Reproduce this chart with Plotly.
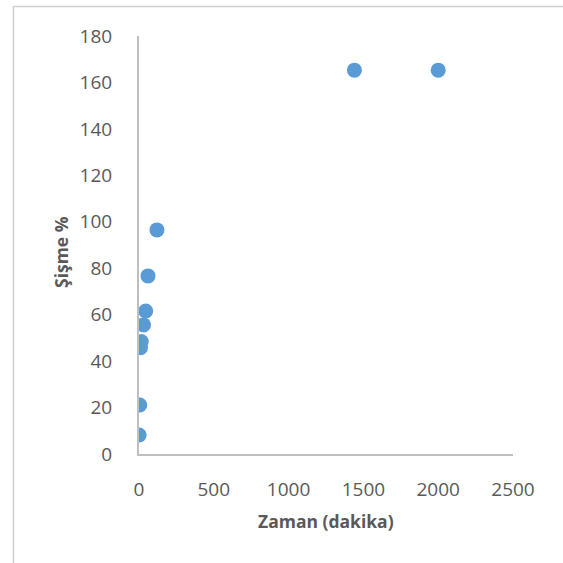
import plotly.graph_objects as go

zaman = [1, 5, 10, 15, 30, 45, 60, 120, 1440, 2000]
sisme = [8.2, 21.1, 45.8, 48.4, 55.6, 61.6, 76.7, 96.5, 165.3, 165.3]

x_ticks = [0, 500, 1000, 1500, 2000, 2500]
y_ticks = [0, 20, 40, 60, 80, 100, 120, 140, 160, 180]

W, H = 563, 563
L, R, T = 139, 50, 36
B = H - 454
pw, ph = W - L - R, H - T - B

def px2x(px):
    return (px - L) / pw

def py2y(py):
    return (H - B - py) / ph

font_fam = "Open Sans, Noto Sans, sans-serif"
tick_col = "#595959"
axis_col = "#BFBFBF"

fig = go.Figure()
fig.add_trace(go.Scatter(
    x=zaman, y=sisme, mode="markers",
    marker=dict(size=15, color="#5B9BD5", line=dict(width=0)),
    showlegend=False, hoverinfo="x+y",
))

fig.update_layout(
    width=W, height=H,
    margin=dict(l=L, r=R, t=T, b=B, pad=0),
    paper_bgcolor="white", plot_bgcolor="white",
    font=dict(family=font_fam, color=tick_col, size=19),
    xaxis=dict(
        range=[0, 2500], tickvals=x_ticks, ticktext=[str(v) for v in x_ticks],
        showgrid=False, zeroline=False, showline=True, linecolor=axis_col, linewidth=2,
        ticks="", ticklabelstandoff=17, tickfont=dict(size=19, color=tick_col),
    ),
    yaxis=dict(
        range=[0, 180], tickvals=y_ticks, ticktext=[str(v) for v in y_ticks],
        showgrid=False, zeroline=False, showline=True, linecolor=axis_col, linewidth=2,
        ticks="", ticklabelstandoff=21, tickfont=dict(size=19, color=tick_col),
    ),
    annotations=[
        dict(text="<b>Zaman (dakika)</b>", xref="paper", yref="paper",
             x=0.5, y=py2y(521), xanchor="center", yanchor="middle",
             showarrow=False, font=dict(size=17.5, color=tick_col, family=font_fam)),
        dict(text="<b>Şişme %</b>", xref="paper", yref="paper",
             x=px2x(61), y=py2y(252), xanchor="center", yanchor="middle",
             textangle=-90, showarrow=False,
             font=dict(size=17.5, color=tick_col, family=font_fam)),
    ],
    shapes=[
        dict(type="line", xref="paper", yref="paper",
             x0=px2x(13), x1=px2x(563), y0=py2y(6.5), y1=py2y(6.5),
             line=dict(color="#D0D0D0", width=1.5), layer="above"),
        dict(type="line", xref="paper", yref="paper",
             x0=px2x(13.5), x1=px2x(13.5), y0=py2y(6), y1=py2y(563),
             line=dict(color="#D0D0D0", width=1.5), layer="above"),
    ],
)

fig.write_html(
    "out.html",
    config={"displayModeBar": False},
    post_script="document.body.style.margin='0';document.body.style.overflow='hidden';",
)
